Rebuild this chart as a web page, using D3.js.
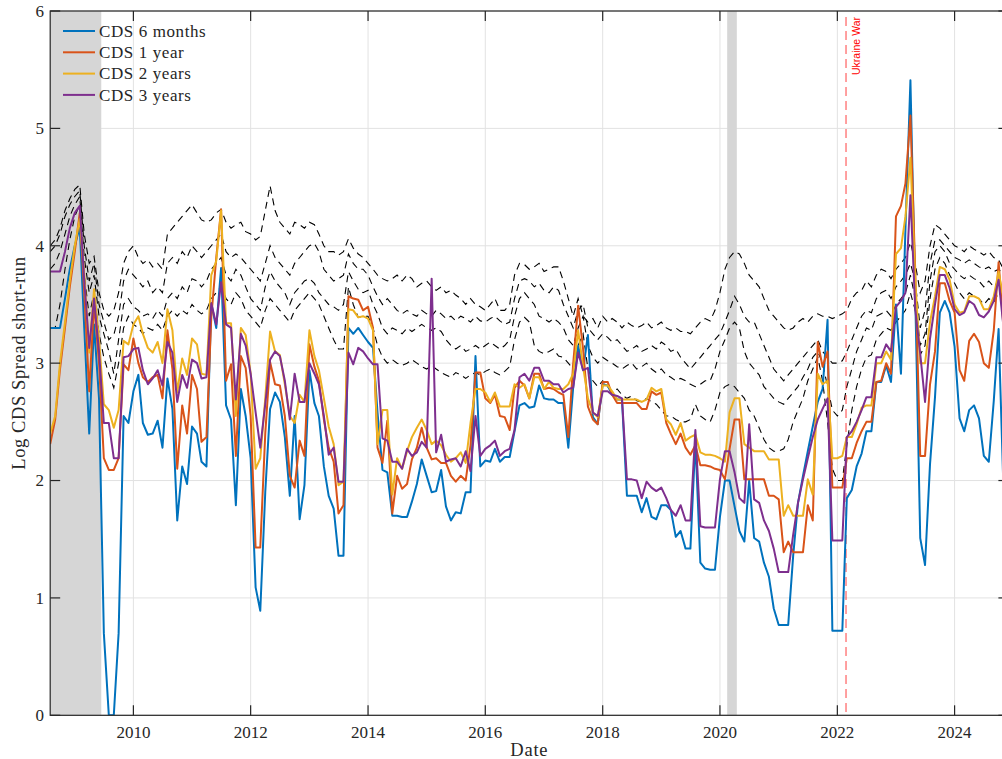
<!DOCTYPE html>
<html><head><meta charset="utf-8">
<script src="https://cdn.jsdelivr.net/npm/d3@7"></script>
<style>html,body{margin:0;padding:0;background:#fff;}svg{display:block;}</style>
</head><body>
<svg id="chart" width="1002" height="759"></svg>
<script>
// ---------- data (monthly, Aug 2008 - Nov 2024) ----------
const months = d3.timeMonth.range(new Date(2008, 7, 1), new Date(2024, 11, 1));
const seriesNames = ["CDS 6 months", "CDS 1 year", "CDS 2 years", "CDS 3 years"];
const cds6m = [
 3.30,3.30,3.30,3.55,3.80,
 4.00,4.16,3.30,2.40,3.33,2.70,0.70,0.00,0.00,0.70,2.55,2.49,
 2.76,2.90,2.49,2.39,2.40,2.51,2.28,2.87,2.61,1.66,2.12,1.97,
 2.46,2.40,2.16,2.12,3.51,3.30,3.81,2.64,2.52,1.79,2.78,2.55,
 2.19,1.09,0.89,1.90,2.61,2.75,2.67,2.37,1.87,2.55,1.67,1.96,
 2.94,2.66,2.55,2.12,1.87,1.76,1.36,1.36,3.30,3.25,3.30,3.24,
 3.18,3.13,2.58,2.09,2.07,1.70,1.70,1.69,1.69,1.82,1.97,2.18,
 2.04,1.90,1.91,2.09,1.78,1.66,1.73,1.72,1.90,1.90,3.06,2.12,
 2.17,2.16,2.27,2.16,2.20,2.20,2.42,2.64,2.66,2.62,2.63,2.81,
 2.70,2.69,2.69,2.66,2.66,2.28,2.79,3.15,2.94,3.24,2.54,2.48,
 2.82,2.81,2.73,2.69,2.69,1.87,1.87,1.87,1.73,1.85,1.69,1.67,
 1.79,1.79,1.75,1.52,1.57,1.42,1.42,2.34,1.30,1.25,1.24,1.24,
 1.69,2.00,2.00,1.78,1.57,1.48,2.00,1.51,1.48,1.30,1.18,0.91,
 0.77,0.77,0.77,1.36,1.81,2.04,2.25,2.46,2.67,2.78,3.37,0.72,
 0.72,0.72,1.85,1.92,2.12,2.23,2.42,2.42,2.84,2.84,2.98,2.84,
 3.50,2.91,4.14,5.41,3.57,1.51,1.28,2.14,2.71,3.43,3.53,3.43,
 3.14,2.53,2.42,2.60,2.64,2.53,2.21,2.16,2.68,3.29,1.90];
const cds1y = [
 2.31,2.52,2.95,3.30,3.65,
 3.95,4.28,3.60,2.76,3.51,3.00,2.19,2.09,2.09,2.19,2.99,2.94,
 3.21,3.00,2.88,2.84,2.88,2.90,2.70,3.28,2.95,2.10,2.64,2.40,
 2.90,2.78,2.33,2.37,3.39,3.90,4.31,2.85,2.99,2.21,3.06,2.96,
 2.55,1.43,1.43,2.40,3.01,2.82,2.81,2.55,2.04,1.94,2.34,2.21,
 3.16,2.97,2.85,2.52,2.28,2.16,1.72,1.79,3.57,3.55,3.54,3.45,
 3.48,3.30,2.28,2.15,2.51,1.72,2.04,1.93,1.97,2.18,2.28,2.45,
 2.28,2.18,2.19,2.15,2.15,2.04,1.99,2.04,2.00,2.30,2.92,2.92,
 2.70,2.66,2.73,2.55,2.54,2.43,2.79,2.85,2.81,2.70,2.91,2.91,
 2.78,2.79,2.78,2.75,2.73,2.37,2.99,3.49,3.12,2.63,2.52,2.48,
 2.84,2.84,2.73,2.66,2.66,2.66,2.66,2.66,2.61,2.61,2.76,2.73,
 2.75,2.49,2.40,2.31,2.40,2.28,2.22,2.30,2.13,2.13,2.12,2.10,
 2.09,2.01,2.27,2.52,2.52,2.01,2.01,2.01,2.01,2.01,1.87,1.87,
 1.84,1.39,1.48,1.39,1.39,1.39,1.79,1.66,3.18,2.97,3.10,1.94,
 1.94,1.94,2.19,2.19,2.32,2.42,2.50,2.50,2.84,2.85,3.00,2.91,
 4.25,4.34,4.53,5.11,3.78,2.21,2.21,2.82,3.10,3.68,3.68,3.53,
 3.43,2.94,2.85,3.19,3.25,3.18,3.00,2.96,3.28,3.86,3.30];
const cds2y = [
 2.40,2.55,3.00,3.35,3.70,
 4.00,4.23,3.75,3.09,3.63,3.20,2.65,2.60,2.45,2.60,3.19,3.16,
 3.33,3.40,3.25,3.13,3.09,3.18,3.00,3.46,3.28,2.75,3.04,2.90,
 3.21,3.16,2.91,2.90,3.75,3.87,4.30,3.34,3.34,2.55,3.30,3.24,
 2.91,2.10,2.19,2.70,3.27,3.10,3.07,2.82,2.55,2.49,2.73,2.67,
 3.28,3.06,2.94,2.70,2.46,2.31,1.96,1.99,3.46,3.45,3.39,3.40,
 3.38,3.28,2.31,2.60,2.60,1.88,2.19,2.10,2.25,2.37,2.45,2.52,
 2.43,2.31,2.34,2.30,2.22,2.16,2.19,2.24,2.15,2.49,2.78,2.78,
 2.75,2.67,2.75,2.63,2.63,2.63,2.82,2.79,2.82,2.70,2.88,2.88,
 2.78,2.84,2.79,2.78,2.78,2.82,2.91,3.28,2.97,2.70,2.58,2.54,
 2.81,2.81,2.76,2.69,2.69,2.69,2.69,2.69,2.67,2.69,2.79,2.76,
 2.78,2.52,2.48,2.39,2.49,2.34,2.37,2.39,2.24,2.22,2.22,2.21,
 2.19,2.16,2.58,2.70,2.70,2.31,2.28,2.25,2.25,2.25,2.18,2.18,
 2.18,1.70,1.79,1.70,1.70,1.70,2.01,1.88,2.91,2.82,2.85,2.19,
 2.19,2.21,2.37,2.37,2.48,2.62,2.64,2.64,3.00,3.00,3.10,3.03,
 3.93,3.98,4.25,4.75,3.71,3.00,3.00,3.35,3.57,3.82,3.80,3.71,
 3.50,3.43,3.44,3.57,3.57,3.55,3.46,3.46,3.57,3.78,3.55];
const cds3y = [
 3.78,3.78,3.78,3.95,4.15,
 4.28,4.34,3.70,3.13,3.55,3.10,2.49,2.49,2.19,2.19,3.05,3.06,
 3.12,3.13,2.94,2.82,2.87,2.94,2.81,3.18,3.09,2.67,2.90,2.79,
 3.03,3.00,2.87,2.88,3.51,3.33,3.69,3.33,3.30,2.69,3.25,3.15,
 2.91,2.58,2.28,2.65,3.03,3.10,3.06,2.85,2.52,2.91,2.67,2.67,
 3.00,2.91,2.82,2.55,2.22,2.28,1.99,1.99,3.09,2.99,3.13,3.10,
 3.04,2.99,2.99,2.36,2.34,2.16,2.16,2.10,2.27,2.21,2.24,2.33,
 2.28,3.72,2.24,2.39,2.16,2.18,2.19,2.12,2.25,2.08,2.55,2.21,
 2.27,2.30,2.34,2.21,2.25,2.27,2.43,2.88,2.91,2.85,2.96,2.96,
 2.85,2.85,2.82,2.82,2.75,2.78,2.79,3.09,2.94,2.96,2.58,2.55,
 2.76,2.76,2.73,2.72,2.70,2.01,2.01,2.00,1.85,1.99,1.94,1.91,
 1.94,1.85,1.75,1.70,1.79,1.66,1.66,2.43,1.61,1.60,1.60,1.60,
 2.01,2.25,2.25,2.07,1.85,1.81,2.48,1.84,1.81,1.66,1.57,1.42,
 1.22,1.22,1.22,1.54,1.81,2.01,2.19,2.37,2.52,2.61,2.70,1.49,
 1.49,1.49,2.37,2.42,2.50,2.60,2.71,2.71,3.05,3.05,3.16,3.10,
 3.48,3.53,3.60,4.43,3.46,3.08,2.67,3.21,3.50,3.75,3.75,3.64,
 3.46,3.41,3.43,3.53,3.50,3.41,3.39,3.44,3.53,3.71,3.30];
// dashed (black) comparison series
const dashA = [
 4.00,4.05,4.15,4.30,4.40,
 4.48,4.52,4.10,3.85,3.91,3.60,3.45,3.40,3.45,3.60,3.85,3.95,
 4.00,3.90,3.85,3.88,3.82,3.85,3.80,4.10,4.15,4.20,4.25,4.30,
 4.35,4.28,4.22,4.20,4.22,4.28,4.31,4.20,4.15,4.18,4.20,4.12,
 4.10,4.05,4.08,4.30,4.51,4.30,4.20,4.15,4.10,4.20,4.18,4.15,
 4.20,4.18,4.10,4.00,3.95,3.95,3.92,3.95,4.06,3.98,3.93,3.90,
 3.85,3.80,3.75,3.72,3.70,3.72,3.75,3.70,3.75,3.72,3.65,3.68,
 3.70,3.65,3.62,3.65,3.60,3.62,3.58,3.55,3.50,3.55,3.50,3.48,
 3.45,3.50,3.55,3.45,3.45,3.50,3.75,3.85,3.84,3.80,3.82,3.85,
 3.78,3.80,3.82,3.82,3.70,3.55,3.40,3.55,3.40,3.35,3.38,3.30,
 3.40,3.35,3.38,3.35,3.30,3.35,3.32,3.30,3.32,3.35,3.30,3.32,
 3.35,3.30,3.28,3.30,3.27,3.27,3.25,3.30,3.35,3.38,3.36,3.45,
 3.60,3.80,3.90,3.95,3.93,3.85,3.75,3.70,3.65,3.55,3.45,3.40,
 3.35,3.30,3.28,3.30,3.35,3.38,3.35,3.40,3.42,3.40,3.40,3.38,
 3.40,3.42,3.45,3.55,3.60,3.62,3.70,3.65,3.75,3.80,3.78,3.72,
 3.80,3.85,3.90,4.03,3.85,3.60,3.70,4.00,4.18,4.15,4.10,4.05,
 4.00,3.98,3.95,4.00,3.97,3.95,3.92,3.95,3.90,3.88,3.80];
const dashB = [
 3.95,4.00,4.10,4.25,4.35,
 4.42,4.47,4.00,3.70,3.85,3.50,3.35,3.20,3.24,3.40,3.70,3.80,
 3.75,3.70,3.65,3.70,3.60,3.65,3.60,3.85,3.90,3.85,3.95,3.90,
 4.00,3.95,3.90,3.95,4.00,4.05,4.10,3.95,3.90,3.93,3.90,3.85,
 3.80,3.75,3.70,3.85,4.00,3.90,3.85,3.80,3.75,3.85,3.90,3.95,
 4.00,4.02,3.95,3.80,3.75,3.70,3.72,3.75,3.93,3.85,3.80,3.80,
 3.75,3.65,3.57,3.50,3.55,3.50,3.45,3.42,3.45,3.42,3.40,3.45,
 3.42,3.40,3.45,3.42,3.38,3.40,3.36,3.40,3.38,3.35,3.40,3.36,
 3.35,3.38,3.40,3.36,3.33,3.35,3.55,3.70,3.72,3.70,3.65,3.68,
 3.62,3.60,3.65,3.62,3.50,3.40,3.30,3.45,3.50,3.30,3.25,3.20,
 3.25,3.22,3.18,3.20,3.15,3.10,3.12,3.15,3.10,3.12,3.15,3.12,
 3.18,3.15,3.10,3.12,3.05,3.00,2.95,3.00,3.05,3.10,3.15,3.20,
 3.25,3.35,3.45,3.57,3.50,3.40,3.35,3.35,3.25,3.15,3.05,2.95,
 2.90,2.85,2.90,2.95,3.00,3.05,3.10,3.15,3.20,3.10,3.05,3.00,
 3.00,3.02,3.10,3.20,3.30,3.40,3.45,3.43,3.55,3.60,3.62,3.55,
 3.65,3.70,3.75,3.85,3.70,3.30,3.45,3.85,4.05,4.05,4.00,3.95,
 3.90,3.88,3.85,3.88,3.85,3.82,3.80,3.82,3.78,3.80,3.75];
const dashC = [
 3.80,3.85,3.95,4.10,4.25,
 4.35,4.42,3.90,3.60,3.75,3.40,3.25,3.10,2.91,3.20,3.50,3.55,
 3.48,3.45,3.40,3.42,3.38,3.45,3.40,3.55,3.60,3.55,3.65,3.60,
 3.72,3.70,3.65,3.70,3.80,3.85,3.90,3.75,3.70,3.80,3.75,3.65,
 3.55,3.50,3.45,3.65,3.78,3.70,3.65,3.60,3.50,3.60,3.65,3.70,
 3.72,3.68,3.60,3.55,3.50,3.48,3.45,3.50,3.78,3.70,3.63,3.60,
 3.62,3.50,3.42,3.30,3.25,3.30,3.28,3.25,3.30,3.27,3.30,3.33,
 3.30,3.28,3.30,3.27,3.20,3.15,3.12,3.15,3.10,3.12,3.15,3.12,
 3.15,3.18,3.15,3.12,3.15,3.20,3.40,3.55,3.60,3.55,3.50,3.40,
 3.38,3.35,3.38,3.35,3.30,3.20,3.15,3.30,3.40,3.15,3.05,3.00,
 3.05,3.02,3.00,2.97,2.95,2.98,3.00,2.95,2.97,3.00,2.95,2.92,
 2.95,2.90,2.88,2.85,2.87,2.85,2.82,2.80,2.82,2.85,2.85,2.95,
 3.10,3.20,3.30,3.35,3.30,3.10,3.00,2.95,2.90,2.80,2.75,2.70,
 2.67,2.65,2.70,2.75,2.80,2.88,2.95,3.05,3.10,3.00,2.80,2.60,
 2.55,2.60,2.80,2.95,3.10,3.20,3.30,3.28,3.40,3.42,3.45,3.40,
 3.50,3.55,3.60,3.75,3.55,3.15,3.25,3.70,3.95,4.00,3.95,3.85,
 3.80,3.75,3.72,3.75,3.72,3.70,3.65,3.70,3.65,3.70,3.65];
const dashD = [
 3.30,3.30,3.50,3.80,4.05,
 4.25,4.35,3.75,3.40,3.60,3.25,3.05,2.91,2.79,3.00,3.30,3.40,
 3.33,3.30,3.25,3.30,3.28,3.33,3.28,3.40,3.45,3.40,3.45,3.42,
 3.50,3.45,3.42,3.45,3.55,3.60,3.65,3.55,3.50,3.60,3.55,3.45,
 3.40,3.35,3.30,3.45,3.55,3.50,3.45,3.40,3.35,3.45,3.50,3.55,
 3.60,3.55,3.50,3.40,3.30,3.20,3.12,3.12,3.65,3.50,3.39,3.40,
 3.40,3.30,3.15,3.05,3.00,3.03,3.00,2.98,3.00,3.03,3.00,2.97,
 2.95,2.98,2.95,2.92,2.90,2.88,2.92,2.90,2.87,2.90,2.92,2.90,
 2.93,2.95,2.92,2.90,2.93,2.97,3.20,3.35,3.39,3.35,3.15,3.10,
 3.08,3.10,3.12,3.06,3.05,3.00,2.95,3.15,3.25,2.95,2.85,2.80,
 2.85,2.80,2.75,2.78,2.73,2.70,2.72,2.68,2.67,2.70,2.67,2.65,
 2.60,2.55,2.55,2.52,2.50,2.50,2.52,2.65,2.55,2.52,2.50,2.60,
 2.75,2.80,2.82,2.80,2.75,2.70,2.60,2.55,2.45,2.35,2.28,2.25,
 2.25,2.27,2.35,2.50,2.60,2.70,2.85,2.95,3.05,2.85,2.50,2.10,
 2.00,2.00,2.30,2.60,2.80,2.95,3.05,3.07,3.20,3.25,3.30,3.28,
 3.35,3.40,3.45,3.60,3.45,3.07,3.15,3.55,3.80,3.90,3.85,3.75,
 3.68,3.60,3.55,3.60,3.57,3.55,3.50,3.55,3.52,3.60,3.55];
const recessionStart = ["2007-12-15", "2020-02-15"];
const recessionEnd   = ["2009-06-15", "2020-04-15"];
const eventDate = "2022-02-24";
const eventLabel = "Ukraine War";
const xTickYears = [2010, 2012, 2014, 2016, 2018, 2020, 2022, 2024];
const yTicks = [0, 1, 2, 3, 4, 5, 6];

// ---------- layout ----------
const colors = ["#0072BD", "#D95319", "#EDB120", "#7E2F8E"];
const L = 50.2, R = 1008.4, T = 11, B = 715.3;
const svg = d3.select("#chart");
const x = d3.scaleTime().domain([new Date(2008, 7, 1), new Date(2024, 11, 1)]).range([L, R]);
const y = d3.scaleLinear().domain([0, 6]).range([B, T]);
const serif = "'Liberation Serif','Times New Roman',serif";
const axisCol = "#262626";

svg.append("defs").append("clipPath").attr("id", "plotclip")
  .append("rect").attr("x", L).attr("y", T).attr("width", R - L).attr("height", B - T);

// grid
const grid = svg.append("g");
xTickYears.forEach(yr => {
  grid.append("line").attr("x1", x(new Date(yr, 0, 1))).attr("x2", x(new Date(yr, 0, 1)))
    .attr("y1", T).attr("y2", B).attr("stroke", "#e2e2e2").attr("stroke-width", 1);
});
yTicks.forEach(v => {
  grid.append("line").attr("x1", L).attr("x2", R).attr("y1", y(v)).attr("y2", y(v))
    .attr("stroke", "#e2e2e2").attr("stroke-width", 1);
});

const plot = svg.append("g").attr("clip-path", "url(#plotclip)");
// shading
recessionStart.forEach((s, k) => {
  const x0 = x(new Date(s)), x1 = x(new Date(recessionEnd[k]));
  plot.append("rect").attr("x", x0).attr("y", T).attr("width", x1 - x0).attr("height", B - T)
    .attr("fill", "#d6d6d6");
});

// dashed black series
const line = vals => d3.line().x((d, i) => x(months[i])).y(d => y(d))(vals);
[dashA, dashB, dashC, dashD].forEach(vals => {
  plot.append("path").attr("d", line(vals)).attr("fill", "none")
    .attr("stroke", "#000").attr("stroke-width", 1.1).attr("stroke-dasharray", "7,5");
});

// event line
const ex = x(new Date(eventDate));
plot.append("line").attr("x1", ex).attr("x2", ex).attr("y1", 17).attr("y2", B)
  .attr("stroke", "#ff0000").attr("stroke-opacity", 0.5).attr("stroke-width", 1.5)
  .attr("stroke-dasharray", "9,5");
svg.append("text").attr("transform", `translate(${ex + 14},17) rotate(-90)`)
  .attr("text-anchor", "end").attr("font-family", "'Liberation Sans',Arial,sans-serif")
  .attr("font-size", 10.5).attr("fill", "#ff0000").text(eventLabel);

// solid series
[cds6m, cds1y, cds2y, cds3y].forEach((vals, k) => {
  plot.append("path").attr("d", line(vals)).attr("fill", "none")
    .attr("stroke", colors[k]).attr("stroke-width", 2).attr("stroke-linejoin", "round");
});

// axes box
const ax = svg.append("g").attr("stroke", axisCol).attr("stroke-width", 1.2);
ax.append("rect").attr("x", L).attr("y", T).attr("width", R - L).attr("height", B - T).attr("fill", "none");
xTickYears.forEach(yr => {
  const xx = x(new Date(yr, 0, 1));
  ax.append("line").attr("x1", xx).attr("x2", xx).attr("y1", B).attr("y2", B - 10);
  ax.append("line").attr("x1", xx).attr("x2", xx).attr("y1", T).attr("y2", T + 10);
  svg.append("text").attr("x", xx).attr("y", 737.5).attr("text-anchor", "middle")
    .attr("font-family", serif).attr("font-size", 17).attr("fill", axisCol).text(String(yr));
});
yTicks.forEach(v => {
  ax.append("line").attr("x1", L).attr("x2", L + 10).attr("y1", y(v)).attr("y2", y(v));
  ax.append("line").attr("x1", R).attr("x2", R - 10).attr("y1", y(v)).attr("y2", y(v));
  svg.append("text").attr("x", 44).attr("y", y(v) + 5.8).attr("text-anchor", "end")
    .attr("font-family", serif).attr("font-size", 17).attr("fill", axisCol).text(String(v));
});

// axis labels
svg.append("text").attr("x", (L + R) / 2).attr("y", 756).attr("text-anchor", "middle")
  .attr("font-family", serif).attr("font-size", 18.5).attr("letter-spacing", 0.8)
  .attr("fill", axisCol).text("Date");
svg.append("text").attr("transform", `translate(25,${(T + B) / 2}) rotate(-90)`)
  .attr("text-anchor", "middle").attr("font-family", serif).attr("font-size", 18.5)
  .attr("letter-spacing", 0.6).attr("fill", axisCol).text("Log CDS Spread short-run");

// legend
const lg = svg.append("g");
seriesNames.forEach((n, k) => {
  const ly = 31 + k * 21.3;
  lg.append("line").attr("x1", 63).attr("x2", 95).attr("y1", ly).attr("y2", ly)
    .attr("stroke", colors[k]).attr("stroke-width", 2);
  lg.append("text").attr("x", 99).attr("y", ly + 5.7).attr("font-family", serif)
    .attr("font-size", 17).attr("letter-spacing", 0.6).attr("fill", axisCol).text(n);
});
</script>
</body></html>
